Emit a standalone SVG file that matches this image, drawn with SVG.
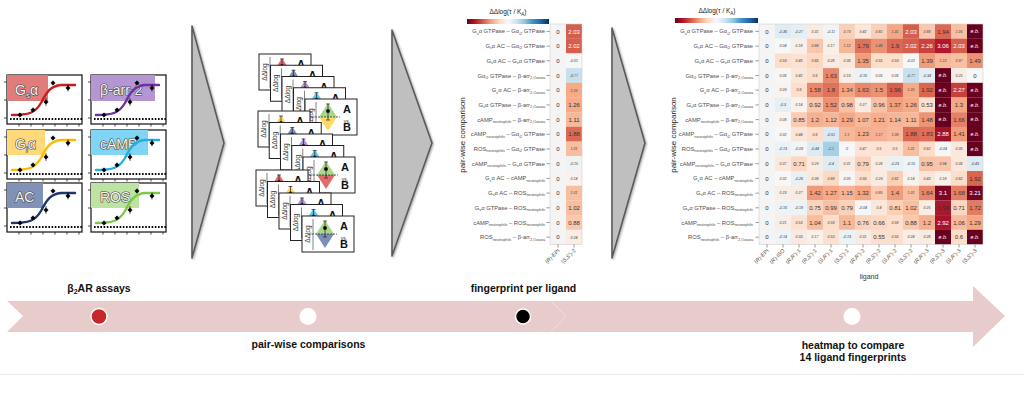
<svg xmlns="http://www.w3.org/2000/svg" xmlns:xlink="http://www.w3.org/1999/xlink" width="1024" height="395" viewBox="0 0 1024 395">
<style>
text{font-family:"Liberation Sans",Arial,sans-serif}
.L{font-size:6px;fill:#333;text-anchor:middle}
.W{font-size:6px;fill:#fff;text-anchor:middle}
.S{font-size:3.6px;font-style:italic;fill:#444;text-anchor:middle}
.E{font-size:5.4px;font-style:italic;fill:#fff;text-anchor:middle}
.rl text{font-size:5.8px;fill:#4d4d4d;text-anchor:end}
.sb{font-size:3.8px}
.xl text{font-size:5.4px;fill:#4d4d4d;text-anchor:end}
.i{font-style:italic}
.ttl{font-size:6.5px;fill:#222;text-anchor:middle}
.yl{font-size:8px;fill:#222;text-anchor:middle}
.tick{stroke:#555;stroke-width:0.6}
.frame{fill:none;stroke:#d0d0d0;stroke-width:0.6}
.ga{fill:#bfbfbf;stroke:#5a5a5a;stroke-width:1.6;stroke-linejoin:round;filter:url(#sh)}
.pf{fill:#fff;stroke:#222;stroke-width:1.3}
.plab{font-size:14px;fill:#f4f4f4;stroke:#444;stroke-width:1.2;paint-order:stroke;stroke-linejoin:round}
.sig{fill:none;stroke-width:2.4;stroke-linecap:round}
.dot{stroke:#000;stroke-width:1.8;stroke-dasharray:1.6 1.6}
.bold{font-weight:bold;font-size:10.5px;fill:#111;text-anchor:middle}
.dl{font-size:6.5px;fill:#333;text-anchor:middle}
.A{font-size:11px;font-weight:bold;fill:#111;text-anchor:middle}
</style>
<defs>
<filter id="sh" x="-20%" y="-5%" width="150%" height="115%"><feDropShadow dx="1" dy="1" stdDeviation="1" flood-opacity="0.35"/></filter>
<linearGradient id="rdbu" x1="0" x2="1" y1="0" y2="0">
<stop offset="0" stop-color="#67001f"/><stop offset="0.1" stop-color="#b2182b"/><stop offset="0.2" stop-color="#d6604d"/><stop offset="0.3" stop-color="#f4a582"/><stop offset="0.4" stop-color="#fddbc7"/><stop offset="0.5" stop-color="#f7f7f7"/><stop offset="0.6" stop-color="#d1e5f0"/><stop offset="0.7" stop-color="#92c5de"/><stop offset="0.8" stop-color="#4393c3"/><stop offset="0.9" stop-color="#2166ac"/><stop offset="1" stop-color="#053061"/>
</linearGradient>
<path id="sig" d="M5,40 C22,40 28,38 34,28 C40,16 44,11 54,10 L68,10"/>
<g id="axes">
<rect class="pf" width="75" height="49"/>
</g>
<g id="deco">
<line class="dot" x1="3" y1="44" x2="75" y2="44"/>
<g stroke="#222" stroke-width="0.8"><line x1="-3" y1="7" x2="0" y2="7"/><line x1="-3" y1="25" x2="0" y2="25"/><line x1="-3" y1="43" x2="0" y2="43"/><line x1="12" y1="49" x2="12" y2="51.5"/><line x1="24" y1="49" x2="24" y2="51.5"/><line x1="36" y1="49" x2="36" y2="51.5"/><line x1="48" y1="49" x2="48" y2="51.5"/><line x1="60" y1="49" x2="60" y2="51.5"/><line x1="72" y1="49" x2="72" y2="51.5"/></g>
</g>
<g id="pts" fill="#000" stroke="#000" stroke-width="0.6">
<path d="M13,37.8 L15.2,40 L13,42.2 L10.8,40Z"/><path d="M26,32.8 L28.2,35 L26,37.2 L23.8,35Z"/><path d="M39,24.8 L41.2,27 L39,29.2 L36.8,27Z"/><path d="M46,5.8 L48.2,8 L46,10.2 L43.8,8Z"/><path d="M61,10.8 L63.2,13 L61,15.2 L58.8,13Z"/>
<line x1="39" y1="23" x2="39" y2="31"/><line x1="61" y1="9.5" x2="61" y2="16.5"/>
</g>
<g id="card">
<rect width="52" height="36" fill="#fff" stroke="#222" stroke-width="1"/>
<text class="dl" transform="translate(7.8,18) rotate(-90)">ΔΔlog</text>
<line x1="11" y1="3" x2="11" y2="34" stroke="#666" stroke-width="0.8"/>
<text class="A" x="42" y="14">A</text>
</g>
<g id="errb" stroke="#222" stroke-width="0.7">
<line x1="23" y1="5" x2="23" y2="21"/><line x1="21" y1="5" x2="25" y2="5"/><line x1="21" y1="21" x2="25" y2="21"/><circle cx="23" cy="12" r="1.7" fill="#000"/>
</g>
<g id="front">
<line x1="10" y1="18" x2="35" y2="18" stroke="#222" stroke-width="0.7" stroke-dasharray="2 1"/>
<text x="8.5" y="19.3" font-size="3.5" fill="#333" text-anchor="middle">0</text>
<text x="42" y="23.5" font-size="5" fill="#333" text-anchor="middle">vs.</text>
<text class="A" x="42" y="32" font-size="10">B</text>
</g>
<g id="rl" class="rl">
<text y="33.4">G<tspan class="sb" dy="1.3">s</tspan><tspan dy="-1.3">α GTPase – Gα</tspan><tspan class="sb" dy="1.3">i2</tspan><tspan dy="-1.3"> GTPase</tspan></text>
<text y="48.1">G<tspan class="sb" dy="1.3">s</tspan><tspan dy="-1.3">α AC – Gα</tspan><tspan class="sb" dy="1.3">i2</tspan><tspan dy="-1.3"> GTPase</tspan></text>
<text y="62.8">G<tspan class="sb" dy="1.3">s</tspan><tspan dy="-1.3">α AC – G</tspan><tspan class="sb" dy="1.3">s</tspan><tspan dy="-1.3">α GTPase</tspan></text>
<text y="77.5">Gα<tspan class="sb" dy="1.3">i2</tspan><tspan dy="-1.3"> GTPase – β-arr</tspan><tspan class="sb" dy="1.3">2,Ozawa</tspan></text>
<text y="92.2">G<tspan class="sb" dy="1.3">s</tspan><tspan dy="-1.3">α AC – β-arr</tspan><tspan class="sb" dy="1.3">2,Ozawa</tspan></text>
<text y="106.9">G<tspan class="sb" dy="1.3">s</tspan><tspan dy="-1.3">α GTPase – β-arr</tspan><tspan class="sb" dy="1.3">2,Ozawa</tspan></text>
<text y="121.6">cAMP<tspan class="sb" dy="1.3">neutrophils</tspan><tspan dy="-1.3"> – β-arr</tspan><tspan class="sb" dy="1.3">2,Ozawa</tspan></text>
<text y="136.3">cAMP<tspan class="sb" dy="1.3">neutrophils</tspan><tspan dy="-1.3"> – Gα</tspan><tspan class="sb" dy="1.3">i2</tspan><tspan dy="-1.3"> GTPase</tspan></text>
<text y="151">ROS<tspan class="sb" dy="1.3">neutrophils</tspan><tspan dy="-1.3"> – Gα</tspan><tspan class="sb" dy="1.3">i2</tspan><tspan dy="-1.3"> GTPase</tspan></text>
<text y="165.7">cAMP<tspan class="sb" dy="1.3">neutrophils</tspan><tspan dy="-1.3"> – G</tspan><tspan class="sb" dy="1.3">s</tspan><tspan dy="-1.3">α GTPase</tspan></text>
<text y="180.4">G<tspan class="sb" dy="1.3">s</tspan><tspan dy="-1.3">α AC – cAMP</tspan><tspan class="sb" dy="1.3">neutrophils</tspan></text>
<text y="195.1">G<tspan class="sb" dy="1.3">s</tspan><tspan dy="-1.3">α AC – ROS</tspan><tspan class="sb" dy="1.3">neutrophils</tspan></text>
<text y="209.8">G<tspan class="sb" dy="1.3">s</tspan><tspan dy="-1.3">α GTPase – ROS</tspan><tspan class="sb" dy="1.3">neutrophils</tspan></text>
<text y="224.5">cAMP<tspan class="sb" dy="1.3">neutrophils</tspan><tspan dy="-1.3"> – ROS</tspan><tspan class="sb" dy="1.3">neutrophils</tspan></text>
<text y="239.2">ROS<tspan class="sb" dy="1.3">neutrophils</tspan><tspan dy="-1.3"> – β-arr</tspan><tspan class="sb" dy="1.3">2,Ozawa</tspan></text>
</g>
<g id="rticks" class="tick">
<line x1="0" y1="31.4" x2="3.5" y2="31.4"/><line x1="0" y1="46.1" x2="3.5" y2="46.1"/><line x1="0" y1="60.8" x2="3.5" y2="60.8"/><line x1="0" y1="75.5" x2="3.5" y2="75.5"/><line x1="0" y1="90.2" x2="3.5" y2="90.2"/><line x1="0" y1="104.9" x2="3.5" y2="104.9"/><line x1="0" y1="119.6" x2="3.5" y2="119.6"/><line x1="0" y1="134.3" x2="3.5" y2="134.3"/><line x1="0" y1="149" x2="3.5" y2="149"/><line x1="0" y1="163.7" x2="3.5" y2="163.7"/><line x1="0" y1="178.4" x2="3.5" y2="178.4"/><line x1="0" y1="193.1" x2="3.5" y2="193.1"/><line x1="0" y1="207.8" x2="3.5" y2="207.8"/><line x1="0" y1="222.5" x2="3.5" y2="222.5"/><line x1="0" y1="237.2" x2="3.5" y2="237.2"/>
</g>
<g id="zeros" class="L">
<text y="33.5">0</text><text y="48.2">0</text><text y="62.9">0</text><text y="77.6">0</text><text y="92.3">0</text><text y="107">0</text><text y="121.7">0</text><text y="136.4">0</text><text y="151.1">0</text><text y="165.8">0</text><text y="180.5">0</text><text y="195.2">0</text><text y="209.9">0</text><text y="224.6">0</text><text y="239.3">0</text>
</g>
</defs>
<rect width="1024" height="395" fill="#fff"/>

<g id="connectors">
<polygon class="ga" points="192,26 224,143 192,258"/>
<polygon class="ga" points="392,30 432,143 392,256"/>
<polygon class="ga" points="612,28 645,143 612,258"/>
</g>

<g id="assays">
<g id="plot-gs" transform="translate(7,75)">
<use href="#axes"/><rect width="41" height="26" fill="#e07c7c"/>
<text class="plab" x="8" y="20">G<tspan font-size="8" dy="3">s</tspan><tspan dy="-3">α</tspan></text>
<use href="#deco"/><use href="#sig" class="sig" stroke="#cc1a1a"/><use href="#pts"/>
</g>
<g id="plot-barr" transform="translate(91,75)">
<use href="#axes"/><rect width="64" height="26" fill="#b497d2"/>
<text class="plab" x="9" y="20">β-arr-2</text>
<use href="#deco"/><use href="#sig" class="sig" stroke="#7030a0"/><use href="#pts"/>
</g>
<g id="plot-gi" transform="translate(7,130)">
<use href="#axes"/><rect width="38" height="25" fill="#ffd97a"/>
<text class="plab" x="8" y="19">G<tspan font-size="8" dy="3">i</tspan><tspan dy="-3">α</tspan></text>
<use href="#deco"/><use href="#sig" class="sig" stroke="#ffba00"/><use href="#pts"/>
</g>
<g id="plot-camp" transform="translate(91,130)">
<use href="#axes"/><rect width="57" height="25" fill="#80d4f4"/>
<text class="plab" x="9" y="19">cAMP</text>
<use href="#deco"/><use href="#sig" class="sig" stroke="#1fb1e6"/><use href="#pts"/>
</g>
<g id="plot-ac" transform="translate(7,183)">
<use href="#axes"/><rect width="36" height="25" fill="#8092b8"/>
<text class="plab" x="8" y="19">AC</text>
<use href="#deco"/><use href="#sig" class="sig" stroke="#1f3570"/><use href="#pts"/>
</g>
<g id="plot-ros" transform="translate(91,183)">
<use href="#axes"/><rect width="48" height="25" fill="#bde2a2"/>
<text class="plab" x="9" y="19">ROS</text>
<use href="#deco"/><use href="#sig" class="sig" stroke="#7dc846"/><use href="#pts"/>
</g>
</g>

<g id="pairwise">
<g transform="translate(259,54)"><use href="#card"/><polygon points="14,18 23,4 32,18" fill="#e36a6a"/><use href="#errb"/></g>
<g transform="translate(270.5,65.25)"><use href="#card"/><polygon points="14,18 23,4 32,18" fill="#7d8fb5"/><use href="#errb"/></g>
<g transform="translate(282,76.5)"><use href="#card"/><polygon points="14,18 23,4 32,18" fill="#b38fd3"/><use href="#errb"/></g>
<g transform="translate(293.5,87.75)"><use href="#card"/><polygon points="14,18 23,4 32,18" fill="#5cc6ef"/><use href="#errb"/></g>
<g transform="translate(305,99)"><use href="#card"/><polygon points="14,18 23,4 32,18" fill="#a9d88b"/><polygon points="14,18 23,32 32,18" fill="#ffd966"/><use href="#front"/><use href="#errb"/></g>

<g transform="translate(258,111)"><use href="#card"/><polygon points="14,18 23,4 32,18" fill="#ffd966"/><use href="#errb"/></g>
<g transform="translate(269.25,122.5)"><use href="#card"/><polygon points="14,18 23,4 32,18" fill="#7d8fb5"/><use href="#errb"/></g>
<g transform="translate(280.5,134)"><use href="#card"/><polygon points="14,18 23,4 32,18" fill="#b38fd3"/><use href="#errb"/></g>
<g transform="translate(291.75,145.5)"><use href="#card"/><polygon points="14,18 23,4 32,18" fill="#5cc6ef"/><use href="#errb"/></g>
<g transform="translate(303,157)"><use href="#card"/><polygon points="14,18 23,4 32,18" fill="#a9d88b"/><polygon points="14,18 23,32 32,18" fill="#e36a6a"/><use href="#front"/><use href="#errb"/></g>

<g transform="translate(256,170)"><use href="#card"/><polygon points="14,18 23,4 32,18" fill="#e36a6a"/><use href="#errb"/></g>
<g transform="translate(267.5,181.5)"><use href="#card"/><polygon points="14,18 23,4 32,18" fill="#ffd966"/><use href="#errb"/></g>
<g transform="translate(279,193)"><use href="#card"/><polygon points="14,18 23,4 32,18" fill="#b38fd3"/><use href="#errb"/></g>
<g transform="translate(290.5,204.5)"><use href="#card"/><polygon points="14,18 23,4 32,18" fill="#5cc6ef"/><use href="#errb"/></g>
<g transform="translate(302,216)"><use href="#card"/><polygon points="14,18 23,4 32,18" fill="#a9d88b"/><polygon points="14,18 23,32 32,18" fill="#7d8fb5"/><use href="#front"/><use href="#errb"/></g>
</g>

<g id="fingerprint">
<text class="ttl" x="508" y="14">ΔΔlog(τ / K<tspan font-size="4.5" dy="1.5">A</tspan><tspan dy="-1.5">)</tspan></text>
<rect x="467" y="19" width="82" height="5" fill="url(#rdbu)"/>
<text class="yl" transform="translate(465,135) rotate(-90)">pair-wise comparison</text>
<use href="#rl" x="545"/>
<use href="#rticks" x="546.5"/>
<rect x="550" y="24" width="16" height="220.5" fill="#f4f4f4"/>
<use href="#zeros" x="558"/>
<g>
<rect x="566" y="24" width="16" height="14.8" fill="#d55e4c"/>
<rect x="566" y="38.7" width="16" height="14.8" fill="#d55e4c"/>
<rect x="566" y="53.4" width="16" height="14.8" fill="#f7f7f7"/>
<rect x="566" y="68.1" width="16" height="14.8" fill="#c8e0ed"/>
<rect x="566" y="82.8" width="16" height="14.8" fill="#f5aa88"/>
<rect x="566" y="97.5" width="16" height="14.8" fill="#f5aa88"/>
<rect x="566" y="112.2" width="16" height="14.8" fill="#f7b799"/>
<rect x="566" y="126.9" width="16" height="14.8" fill="#db6a55"/>
<rect x="566" y="141.6" width="16" height="14.8" fill="#f8bea2"/>
<rect x="566" y="156.3" width="16" height="14.8" fill="#eef3f5"/>
<rect x="566" y="171" width="16" height="14.8" fill="#f8f1ec"/>
<rect x="566" y="185.7" width="16" height="14.8" fill="#f8bea2"/>
<rect x="566" y="200.4" width="16" height="14.8" fill="#f8bea1"/>
<rect x="566" y="215.1" width="16" height="14.8" fill="#fac8af"/>
<rect x="566" y="229.8" width="16" height="14.7" fill="#f9ede5"/>
</g>
<text class="W" x="574" y="33.5">2.03</text>
<text class="W" x="574" y="48.2">2.02</text>
<text class="S" x="574" y="62.1">-0.01</text>
<text class="S" x="574" y="76.8">-0.77</text>
<text class="S" x="574" y="91.5">1.25</text>
<text class="L" x="574" y="107">1.26</text>
<text class="L" x="574" y="121.7">1.11</text>
<text class="L" x="574" y="136.4">1.88</text>
<text class="S" x="574" y="150.3">1.01</text>
<text class="S" x="574" y="165">-0.15</text>
<text class="S" x="574" y="179.7">0.14</text>
<text class="S" x="574" y="194.4">1.01</text>
<text class="L" x="574" y="209.9">1.02</text>
<text class="L" x="574" y="224.6">0.88</text>
<text class="S" x="574" y="238.5">0.24</text>
<rect class="frame" x="550" y="24" width="32" height="220.5"/>
<g class="tick"><line x1="558" y1="244.5" x2="558" y2="247.5"/><line x1="574" y1="244.5" x2="574" y2="247.5"/></g>
<g class="xl">
<text transform="translate(560,251) rotate(-45)">(<tspan class="i">R</tspan>)-EPI</text>
<text transform="translate(576,251) rotate(-45)">(<tspan class="i">S</tspan>,<tspan class="i">S'</tspan>)-2</text>
</g>
</g>

<g id="heatmap">
<text class="ttl" x="717" y="13">ΔΔlog(τ / K<tspan font-size="4.5" dy="1.5">A</tspan><tspan dy="-1.5">)</tspan></text>
<rect x="675" y="18" width="83" height="5" fill="url(#rdbu)"/>
<text class="yl" transform="translate(676,135) rotate(-90)">pair-wise comparison</text>
<use href="#rl" x="753"/>
<use href="#rticks" x="755.5"/>
<rect x="759" y="24" width="16" height="220.5" fill="#f4f4f4"/>
<use href="#zeros" x="767"/>

<g transform="translate(0,24)">
<rect x="775" width="16" height="14.8" fill="#e0ecf3"/><rect x="791" width="16" height="14.8" fill="#e6eff4"/><rect x="807" width="16" height="14.8" fill="#faeae1"/><rect x="823" width="16" height="14.8" fill="#f1f4f6"/><rect x="839" width="16" height="14.8" fill="#fbd0b8"/><rect x="855" width="16" height="14.8" fill="#fbe6da"/><rect x="871" width="16" height="14.8" fill="#fbd0b8"/><rect x="887" width="16" height="14.8" fill="#f4a784"/><rect x="903" width="16" height="14.8" fill="#d55e4c"/><rect x="919" width="16" height="14.8" fill="#fac7ae"/><rect x="935" width="16" height="14.8" fill="#da6853"/><rect x="951" width="16" height="14.8" fill="#f8bfa3"/><rect x="967" width="16" height="14.8" fill="#67001f"/>
<text class="S" x="783" y="8.7">-0.36</text><text class="S" x="799" y="8.7">-0.27</text><text class="S" x="815" y="8.7">0.31</text><text class="S" x="831" y="8.7">-0.11</text><text class="S" x="847" y="8.7">0.79</text><text class="S" x="863" y="8.7">0.42</text><text class="S" x="879" y="8.7">0.81</text><text class="S" x="895" y="8.7">1.31</text><text class="W" x="911" y="9.5">2.03</text><text class="S" x="927" y="8.7">0.88</text><text class="L" x="943" y="9.5">1.94</text><text class="S" x="959" y="8.7">1.05</text><text class="E" x="975" y="9.3">e.b.</text>
</g>
<g transform="translate(0,38.7)">
<rect x="775" width="16" height="14.8" fill="#f7f7f7"/><rect x="791" width="16" height="14.8" fill="#f9efe8"/><rect x="807" width="16" height="14.8" fill="#fac7ae"/><rect x="823" width="16" height="14.8" fill="#f9efe8"/><rect x="839" width="16" height="14.8" fill="#f7b799"/><rect x="855" width="16" height="14.8" fill="#de735b"/><rect x="871" width="16" height="14.8" fill="#ec9274"/><rect x="887" width="16" height="14.8" fill="#da6853"/><rect x="903" width="16" height="14.8" fill="#d55e4c"/><rect x="919" width="16" height="14.8" fill="#c8423f"/><rect x="935" width="16" height="14.8" fill="#b2182b"/><rect x="951" width="16" height="14.8" fill="#d55e4c"/><rect x="967" width="16" height="14.8" fill="#67001f"/>
<text class="S" x="783" y="8.7">0.04</text><text class="S" x="799" y="8.7">0.18</text><text class="S" x="815" y="8.7">0.88</text><text class="S" x="831" y="8.7">0.17</text><text class="S" x="847" y="8.7">1.12</text><text class="L" x="863" y="9.5">1.79</text><text class="S" x="879" y="8.7">1.46</text><text class="L" x="895" y="9.5">1.9</text><text class="W" x="911" y="9.5">2.02</text><text class="W" x="927" y="9.5">2.26</text><text class="W" x="943" y="9.5">3.06</text><text class="W" x="959" y="9.5">2.03</text><text class="E" x="975" y="9.3">e.b.</text>
</g>
<g transform="translate(0,53.4)">
<rect x="775" width="16" height="14.8" fill="#fcdecb"/><rect x="791" width="16" height="14.8" fill="#fce2d3"/><rect x="807" width="16" height="14.8" fill="#fcd8c3"/><rect x="823" width="16" height="14.8" fill="#faeae1"/><rect x="839" width="16" height="14.8" fill="#fbe6da"/><rect x="855" width="16" height="14.8" fill="#f09d7c"/><rect x="871" width="16" height="14.8" fill="#fcdecb"/><rect x="887" width="16" height="14.8" fill="#fcdecb"/><rect x="903" width="16" height="14.8" fill="#f7f7f7"/><rect x="919" width="16" height="14.8" fill="#f09d7c"/><rect x="935" width="16" height="14.8" fill="#f7b799"/><rect x="951" width="16" height="14.8" fill="#f8bfa3"/><rect x="967" width="16" height="14.8" fill="#ec9274"/>
<text class="S" x="783" y="8.7">0.59</text><text class="S" x="799" y="8.7">0.45</text><text class="S" x="815" y="8.7">0.66</text><text class="S" x="831" y="8.7">0.28</text><text class="S" x="847" y="8.7">0.36</text><text class="L" x="863" y="9.5">1.35</text><text class="S" x="879" y="8.7">0.55</text><text class="S" x="895" y="8.7">0.59</text><text class="S" x="911" y="8.7">-0.01</text><text class="L" x="927" y="9.5">1.39</text><text class="S" x="943" y="8.7">1.12</text><text class="S" x="959" y="8.7">0.97</text><text class="L" x="975" y="9.5">1.49</text>
</g>
<g transform="translate(0,68.1)">
<rect x="775" width="16" height="14.8" fill="#f8f5f3"/><rect x="791" width="16" height="14.8" fill="#fbe6da"/><rect x="807" width="16" height="14.8" fill="#fcdecb"/><rect x="823" width="16" height="14.8" fill="#e7886c"/><rect x="839" width="16" height="14.8" fill="#f9efe8"/><rect x="855" width="16" height="14.8" fill="#ebf2f5"/><rect x="871" width="16" height="14.8" fill="#f8f5f3"/><rect x="887" width="16" height="14.8" fill="#f8f5f3"/><rect x="903" width="16" height="14.8" fill="#c8e0ed"/><rect x="919" width="16" height="14.8" fill="#e4eef4"/><rect x="935" width="16" height="14.8" fill="#67001f"/><rect x="951" width="16" height="14.8" fill="#f9eee6"/><rect x="967" width="16" height="14.8" fill="#f7f7f7"/>
<text class="S" x="783" y="8.7">0.06</text><text class="S" x="799" y="8.7">0.42</text><text class="S" x="815" y="8.7">0.6</text><text class="L" x="831" y="9.5">1.63</text><text class="S" x="847" y="8.7">0.19</text><text class="S" x="863" y="8.7">-0.16</text><text class="S" x="879" y="8.7">0.05</text><text class="S" x="895" y="8.7">0.06</text><text class="S" x="911" y="8.7">-0.77</text><text class="S" x="927" y="8.7">-0.34</text><text class="E" x="943" y="9.3">e.b.</text><text class="S" x="959" y="8.7">0.25</text><text class="L" x="975" y="9.5">0</text>
</g>
<g transform="translate(0,82.8)">
<rect x="775" width="16" height="14.8" fill="#f8f3f0"/><rect x="791" width="16" height="14.8" fill="#fcdecb"/><rect x="807" width="16" height="14.8" fill="#e8896d"/><rect x="823" width="16" height="14.8" fill="#de735b"/><rect x="839" width="16" height="14.8" fill="#f3a582"/><rect x="855" width="16" height="14.8" fill="#e7886c"/><rect x="871" width="16" height="14.8" fill="#ec9274"/><rect x="887" width="16" height="14.8" fill="#d65f4d"/><rect x="903" width="16" height="14.8" fill="#f5aa88"/><rect x="919" width="16" height="14.8" fill="#d9664f"/><rect x="935" width="16" height="14.8" fill="#67001f"/><rect x="951" width="16" height="14.8" fill="#c6403e"/><rect x="967" width="16" height="14.8" fill="#67001f"/>
<text class="S" x="783" y="8.7">0.09</text><text class="S" x="799" y="8.7">0.6</text><text class="L" x="815" y="9.5">1.58</text><text class="L" x="831" y="9.5">1.8</text><text class="L" x="847" y="9.5">1.34</text><text class="L" x="863" y="9.5">1.63</text><text class="L" x="879" y="9.5">1.5</text><text class="L" x="895" y="9.5">1.96</text><text class="S" x="911" y="8.7">1.25</text><text class="L" x="927" y="9.5">1.92</text><text class="E" x="943" y="9.3">e.b.</text><text class="W" x="959" y="9.5">2.27</text><text class="E" x="975" y="9.3">e.b.</text>
</g>
<g transform="translate(0,97.5)">
<rect x="775" width="16" height="14.8" fill="#e6eff4"/><rect x="791" width="16" height="14.8" fill="#f8f1ec"/><rect x="807" width="16" height="14.8" fill="#fac6ad"/><rect x="823" width="16" height="14.8" fill="#eb9072"/><rect x="839" width="16" height="14.8" fill="#f8c0a5"/><rect x="855" width="16" height="14.8" fill="#faebe2"/><rect x="871" width="16" height="14.8" fill="#f9c2a7"/><rect x="887" width="16" height="14.8" fill="#f1a07e"/><rect x="903" width="16" height="14.8" fill="#f5aa88"/><rect x="919" width="16" height="14.8" fill="#fce1d1"/><rect x="935" width="16" height="14.8" fill="#67001f"/><rect x="951" width="16" height="14.8" fill="#f4a784"/><rect x="967" width="16" height="14.8" fill="#67001f"/>
<text class="S" x="783" y="8.7">-0.3</text><text class="S" x="799" y="8.7">0.14</text><text class="L" x="815" y="9.5">0.92</text><text class="L" x="831" y="9.5">1.52</text><text class="L" x="847" y="9.5">0.98</text><text class="S" x="863" y="8.7">0.27</text><text class="L" x="879" y="9.5">0.96</text><text class="L" x="895" y="9.5">1.37</text><text class="L" x="911" y="9.5">1.26</text><text class="L" x="927" y="9.5">0.53</text><text class="E" x="943" y="9.3">e.b.</text><text class="L" x="959" y="9.5">1.3</text><text class="E" x="975" y="9.3">e.b.</text>
</g>
<g transform="translate(0,112.2)">
<rect x="775" width="16" height="14.8" fill="#f8f4f1"/><rect x="791" width="16" height="14.8" fill="#fbcbb3"/><rect x="807" width="16" height="14.8" fill="#f6af8f"/><rect x="823" width="16" height="14.8" fill="#f7b698"/><rect x="839" width="16" height="14.8" fill="#f4a886"/><rect x="855" width="16" height="14.8" fill="#f7b99c"/><rect x="871" width="16" height="14.8" fill="#f6ae8e"/><rect x="887" width="16" height="14.8" fill="#f7b496"/><rect x="903" width="16" height="14.8" fill="#f7b799"/><rect x="919" width="16" height="14.8" fill="#ed9476"/><rect x="935" width="16" height="14.8" fill="#67001f"/><rect x="951" width="16" height="14.8" fill="#e58167"/><rect x="967" width="16" height="14.8" fill="#67001f"/>
<text class="S" x="783" y="8.7">0.08</text><text class="L" x="799" y="9.5">0.85</text><text class="L" x="815" y="9.5">1.2</text><text class="L" x="831" y="9.5">1.12</text><text class="L" x="847" y="9.5">1.29</text><text class="L" x="863" y="9.5">1.07</text><text class="L" x="879" y="9.5">1.21</text><text class="L" x="895" y="9.5">1.14</text><text class="L" x="911" y="9.5">1.11</text><text class="L" x="927" y="9.5">1.48</text><text class="E" x="943" y="9.3">e.b.</text><text class="L" x="959" y="9.5">1.66</text><text class="E" x="975" y="9.3">e.b.</text>
</g>
<g transform="translate(0,126.9)">
<rect x="775" width="16" height="14.8" fill="#f7f7f7"/><rect x="791" width="16" height="14.8" fill="#fbe5d8"/><rect x="807" width="16" height="14.8" fill="#fcdecb"/><rect x="823" width="16" height="14.8" fill="#dae9f2"/><rect x="839" width="16" height="14.8" fill="#f7b799"/><rect x="855" width="16" height="14.8" fill="#f5ad8d"/><rect x="871" width="16" height="14.8" fill="#f6b194"/><rect x="887" width="16" height="14.8" fill="#f7b89b"/><rect x="903" width="16" height="14.8" fill="#db6a55"/><rect x="919" width="16" height="14.8" fill="#dd705a"/><rect x="935" width="16" height="14.8" fill="#a01228"/><rect x="951" width="16" height="14.8" fill="#f09c7b"/><rect x="967" width="16" height="14.8" fill="#67001f"/>
<text class="S" x="783" y="8.7">0.02</text><text class="S" x="799" y="8.7">0.44</text><text class="S" x="815" y="8.7">0.6</text><text class="S" x="831" y="8.7">-0.51</text><text class="S" x="847" y="8.7">1.1</text><text class="L" x="863" y="9.5">1.23</text><text class="S" x="879" y="8.7">1.17</text><text class="S" x="895" y="8.7">1.08</text><text class="L" x="911" y="9.5">1.88</text><text class="L" x="927" y="9.5">1.83</text><text class="W" x="943" y="9.5">2.88</text><text class="L" x="959" y="9.5">1.41</text><text class="E" x="975" y="9.3">e.b.</text>
</g>
<g transform="translate(0,141.6)">
<rect x="775" width="16" height="14.8" fill="#ebf2f5"/><rect x="791" width="16" height="14.8" fill="#f2f5f6"/><rect x="807" width="16" height="14.8" fill="#dfebf3"/><rect x="823" width="16" height="14.8" fill="#a7d0e4"/><rect x="839" width="16" height="14.8" fill="#f7f7f7"/><rect x="855" width="16" height="14.8" fill="#fce3d5"/><rect x="871" width="16" height="14.8" fill="#fce2d3"/><rect x="887" width="16" height="14.8" fill="#fce2d3"/><rect x="903" width="16" height="14.8" fill="#f8bea2"/><rect x="919" width="16" height="14.8" fill="#fcddc9"/><rect x="935" width="16" height="14.8" fill="#f5f6f7"/><rect x="951" width="16" height="14.8" fill="#fbe8dd"/><rect x="967" width="16" height="14.8" fill="#67001f"/>
<text class="S" x="783" y="8.7">-0.19</text><text class="S" x="799" y="8.7">-0.09</text><text class="S" x="815" y="8.7">-0.44</text><text class="S" x="831" y="8.7">-1.1</text><text class="S" x="847" y="8.7">0</text><text class="S" x="863" y="8.7">0.47</text><text class="S" x="879" y="8.7">0.5</text><text class="S" x="895" y="8.7">0.5</text><text class="S" x="911" y="8.7">1.01</text><text class="S" x="927" y="8.7">0.62</text><text class="S" x="943" y="8.7">-0.04</text><text class="S" x="959" y="8.7">0.35</text><text class="E" x="975" y="9.3">e.b.</text>
</g>
<g transform="translate(0,156.3)">
<rect x="775" width="16" height="14.8" fill="#fbe7dc"/><rect x="791" width="16" height="14.8" fill="#fcd7c2"/><rect x="807" width="16" height="14.8" fill="#faebe2"/><rect x="823" width="16" height="14.8" fill="#e0ecf3"/><rect x="839" width="16" height="14.8" fill="#faeae1"/><rect x="855" width="16" height="14.8" fill="#fbd1b9"/><rect x="871" width="16" height="14.8" fill="#faece4"/><rect x="887" width="16" height="14.8" fill="#eaf1f5"/><rect x="903" width="16" height="14.8" fill="#eef3f5"/><rect x="919" width="16" height="14.8" fill="#f9c3a8"/><rect x="935" width="16" height="14.8" fill="#f9c4a9"/><rect x="951" width="16" height="14.8" fill="#fbe7dc"/><rect x="967" width="16" height="14.8" fill="#dfebf3"/>
<text class="S" x="783" y="8.7">0.37</text><text class="L" x="799" y="9.5">0.71</text><text class="S" x="815" y="8.7">0.29</text><text class="S" x="831" y="8.7">-0.4</text><text class="S" x="847" y="8.7">0.31</text><text class="L" x="863" y="9.5">0.79</text><text class="S" x="879" y="8.7">0.26</text><text class="S" x="895" y="8.7">-0.23</text><text class="S" x="911" y="8.7">-0.15</text><text class="L" x="927" y="9.5">0.95</text><text class="S" x="943" y="8.7">0.94</text><text class="S" x="959" y="8.7">0.36</text><text class="S" x="975" y="8.7">-0.43</text>
</g>
<g transform="translate(0,171)">
<rect x="775" width="16" height="14.8" fill="#f7f7f7"/><rect x="791" width="16" height="14.8" fill="#e8f0f4"/><rect x="807" width="16" height="14.8" fill="#fbe7db"/><rect x="823" width="16" height="14.8" fill="#fcd9c5"/><rect x="839" width="16" height="14.8" fill="#f7f5f4"/><rect x="855" width="16" height="14.8" fill="#fcdfce"/><rect x="871" width="16" height="14.8" fill="#faebe2"/><rect x="887" width="16" height="14.8" fill="#fbcfb6"/><rect x="903" width="16" height="14.8" fill="#f8f1ec"/><rect x="919" width="16" height="14.8" fill="#fbe5d9"/><rect x="935" width="16" height="14.8" fill="#f9f0ea"/><rect x="951" width="16" height="14.8" fill="#fcddc9"/><rect x="967" width="16" height="14.8" fill="#d9664f"/>
<text class="S" x="783" y="8.7">0.02</text><text class="S" x="799" y="8.7">-0.26</text><text class="S" x="815" y="8.7">0.38</text><text class="S" x="831" y="8.7">0.68</text><text class="S" x="847" y="8.7">0.05</text><text class="S" x="863" y="8.7">0.56</text><text class="S" x="879" y="8.7">0.29</text><text class="S" x="895" y="8.7">0.82</text><text class="S" x="911" y="8.7">0.14</text><text class="S" x="927" y="8.7">0.43</text><text class="S" x="943" y="8.7">0.18</text><text class="S" x="959" y="8.7">0.62</text><text class="L" x="975" y="9.5">1.92</text>
</g>
<g transform="translate(0,185.7)">
<rect x="775" width="16" height="14.8" fill="#f9eee6"/><rect x="791" width="16" height="14.8" fill="#faebe2"/><rect x="807" width="16" height="14.8" fill="#ef9b7a"/><rect x="823" width="16" height="14.8" fill="#f5a987"/><rect x="839" width="16" height="14.8" fill="#f7b395"/><rect x="855" width="16" height="14.8" fill="#f4a582"/><rect x="871" width="16" height="14.8" fill="#fbcbb3"/><rect x="887" width="16" height="14.8" fill="#f09d7c"/><rect x="903" width="16" height="14.8" fill="#f8bea2"/><rect x="919" width="16" height="14.8" fill="#e6866b"/><rect x="935" width="16" height="14.8" fill="#7e0723"/><rect x="951" width="16" height="14.8" fill="#e47f65"/><rect x="967" width="16" height="14.8" fill="#730421"/>
<text class="S" x="783" y="8.7">0.23</text><text class="S" x="799" y="8.7">0.27</text><text class="L" x="815" y="9.5">1.42</text><text class="L" x="831" y="9.5">1.27</text><text class="L" x="847" y="9.5">1.15</text><text class="L" x="863" y="9.5">1.32</text><text class="S" x="879" y="8.7">0.85</text><text class="L" x="895" y="9.5">1.4</text><text class="S" x="911" y="8.7">1.01</text><text class="L" x="927" y="9.5">1.64</text><text class="W" x="943" y="9.5">3.1</text><text class="L" x="959" y="9.5">1.68</text><text class="W" x="975" y="9.5">3.21</text>
</g>
<g transform="translate(0,200.4)">
<rect x="775" width="16" height="14.8" fill="#edf2f5"/><rect x="791" width="16" height="14.8" fill="#ecf2f5"/><rect x="807" width="16" height="14.8" fill="#fbd4bd"/><rect x="823" width="16" height="14.8" fill="#f8bfa4"/><rect x="839" width="16" height="14.8" fill="#fbd1b9"/><rect x="855" width="16" height="14.8" fill="#f5f6f7"/><rect x="871" width="16" height="14.8" fill="#fbe6da"/><rect x="887" width="16" height="14.8" fill="#fbd0b7"/><rect x="903" width="16" height="14.8" fill="#f8bea1"/><rect x="919" width="16" height="14.8" fill="#f9ede5"/><rect x="935" width="16" height="14.8" fill="#a8192e"/><rect x="951" width="16" height="14.8" fill="#fcd7c2"/><rect x="967" width="16" height="14.8" fill="#e27b61"/>
<text class="S" x="783" y="8.7">-0.16</text><text class="S" x="799" y="8.7">-0.18</text><text class="L" x="815" y="9.5">0.75</text><text class="L" x="831" y="9.5">0.99</text><text class="L" x="847" y="9.5">0.79</text><text class="S" x="863" y="8.7">-0.04</text><text class="S" x="879" y="8.7">0.4</text><text class="L" x="895" y="9.5">0.81</text><text class="L" x="911" y="9.5">1.02</text><text class="S" x="927" y="8.7">0.25</text><text class="L" x="943" y="9.5">1.98</text><text class="L" x="959" y="9.5">0.71</text><text class="L" x="975" y="9.5">1.72</text>
</g>
<g transform="translate(0,215.1)">
<rect x="775" width="16" height="14.8" fill="#f9eee7"/><rect x="791" width="16" height="14.8" fill="#fce1d1"/><rect x="807" width="16" height="14.8" fill="#f8bc9f"/><rect x="823" width="16" height="14.8" fill="#fcdecc"/><rect x="839" width="16" height="14.8" fill="#f7b799"/><rect x="855" width="16" height="14.8" fill="#fbd3bc"/><rect x="871" width="16" height="14.8" fill="#fcd8c3"/><rect x="887" width="16" height="14.8" fill="#fcdfcd"/><rect x="903" width="16" height="14.8" fill="#fac8af"/><rect x="919" width="16" height="14.8" fill="#f6af8f"/><rect x="935" width="16" height="14.8" fill="#a5142c"/><rect x="951" width="16" height="14.8" fill="#f7ba9d"/><rect x="967" width="16" height="14.8" fill="#f4a886"/>
<text class="S" x="783" y="8.7">0.21</text><text class="S" x="799" y="8.7">0.53</text><text class="L" x="815" y="9.5">1.04</text><text class="S" x="831" y="8.7">0.59</text><text class="L" x="847" y="9.5">1.1</text><text class="L" x="863" y="9.5">0.76</text><text class="L" x="879" y="9.5">0.66</text><text class="S" x="895" y="8.7">0.58</text><text class="L" x="911" y="9.5">0.88</text><text class="L" x="927" y="9.5">1.2</text><text class="W" x="943" y="9.5">2.92</text><text class="L" x="959" y="9.5">1.06</text><text class="L" x="975" y="9.5">1.29</text>
</g>
<g transform="translate(0,229.8)">
<rect x="775" width="16" height="14.7" fill="#eef3f5"/><rect x="791" width="16" height="14.7" fill="#fae9e0"/><rect x="807" width="16" height="14.7" fill="#f9f0ea"/><rect x="823" width="16" height="14.7" fill="#fce1d1"/><rect x="839" width="16" height="14.7" fill="#ebf2f5"/><rect x="855" width="16" height="14.7" fill="#faeae1"/><rect x="871" width="16" height="14.7" fill="#fce0cf"/><rect x="887" width="16" height="14.7" fill="#fcdfce"/><rect x="903" width="16" height="14.7" fill="#f9ede5"/><rect x="919" width="16" height="14.7" fill="#faebe2"/><rect x="935" width="16" height="14.7" fill="#67001f"/><rect x="951" width="16" height="14.7" fill="#fcdecb"/><rect x="967" width="16" height="14.7" fill="#67001f"/>
<text class="S" x="783" y="8.7">-0.14</text><text class="S" x="799" y="8.7">0.33</text><text class="S" x="815" y="8.7">0.17</text><text class="S" x="831" y="8.7">0.53</text><text class="S" x="847" y="8.7">-0.19</text><text class="S" x="863" y="8.7">0.31</text><text class="L" x="879" y="9.5">0.55</text><text class="S" x="895" y="8.7">0.56</text><text class="S" x="911" y="8.7">0.24</text><text class="S" x="927" y="8.7">0.28</text><text class="E" x="943" y="9.3">e.b.</text><text class="L" x="959" y="9.5">0.6</text><text class="E" x="975" y="9.3">e.b.</text>
</g>
<rect class="frame" x="759" y="24" width="224" height="220.5"/>
<g class="tick">
<line x1="767" y1="244.5" x2="767" y2="247.5"/><line x1="783" y1="244.5" x2="783" y2="247.5"/><line x1="799" y1="244.5" x2="799" y2="247.5"/><line x1="815" y1="244.5" x2="815" y2="247.5"/><line x1="831" y1="244.5" x2="831" y2="247.5"/><line x1="847" y1="244.5" x2="847" y2="247.5"/><line x1="863" y1="244.5" x2="863" y2="247.5"/><line x1="879" y1="244.5" x2="879" y2="247.5"/><line x1="895" y1="244.5" x2="895" y2="247.5"/><line x1="911" y1="244.5" x2="911" y2="247.5"/><line x1="927" y1="244.5" x2="927" y2="247.5"/><line x1="943" y1="244.5" x2="943" y2="247.5"/><line x1="959" y1="244.5" x2="959" y2="247.5"/><line x1="975" y1="244.5" x2="975" y2="247.5"/>
</g>
<g class="xl">
<text transform="translate(769,251) rotate(-45)">(<tspan class="i">R</tspan>)-EPI</text>
<text transform="translate(785,251) rotate(-45)">(<tspan class="i">R</tspan>)-ISO</text>
<text transform="translate(801,251) rotate(-45)">(<tspan class="i">R</tspan>,<tspan class="i">R'</tspan>)-1</text>
<text transform="translate(817,251) rotate(-45)">(<tspan class="i">R</tspan>,<tspan class="i">S'</tspan>)-1</text>
<text transform="translate(833,251) rotate(-45)">(<tspan class="i">S</tspan>,<tspan class="i">R'</tspan>)-1</text>
<text transform="translate(849,251) rotate(-45)">(<tspan class="i">S</tspan>,<tspan class="i">S'</tspan>)-1</text>
<text transform="translate(865,251) rotate(-45)">(<tspan class="i">R</tspan>,<tspan class="i">R'</tspan>)-2</text>
<text transform="translate(881,251) rotate(-45)">(<tspan class="i">R</tspan>,<tspan class="i">S'</tspan>)-2</text>
<text transform="translate(897,251) rotate(-45)">(<tspan class="i">S</tspan>,<tspan class="i">R'</tspan>)-2</text>
<text transform="translate(913,251) rotate(-45)">(<tspan class="i">S</tspan>,<tspan class="i">S'</tspan>)-2</text>
<text transform="translate(929,251) rotate(-45)">(<tspan class="i">R</tspan>,<tspan class="i">R'</tspan>)-3</text>
<text transform="translate(945,251) rotate(-45)">(<tspan class="i">R</tspan>,<tspan class="i">S'</tspan>)-3</text>
<text transform="translate(961,251) rotate(-45)">(<tspan class="i">S</tspan>,<tspan class="i">R'</tspan>)-3</text>
<text transform="translate(977,251) rotate(-45)">(<tspan class="i">S</tspan>,<tspan class="i">S'</tspan>)-3</text>
</g>
<text x="869" y="279" font-size="7" fill="#333" text-anchor="middle">ligand</text>
</g>

<g id="timeline">
<polygon points="7,301 973,301 973,286 1005,316 973,347 973,332 7,332 23,316" fill="#e8cccc"/>
<polyline points="551,301 566,316 551,332" fill="none" stroke="#fff" stroke-opacity="0.35" stroke-width="1"/>
<circle cx="99" cy="316.5" r="8" fill="#c4282b" stroke="#fff" stroke-width="1.5"/>
<circle cx="308" cy="316.5" r="8.5" fill="#fff"/>
<circle cx="523" cy="316.5" r="7.5" fill="#000" stroke="#fff" stroke-width="1.5"/>
<circle cx="852" cy="316.5" r="8.5" fill="#fff"/>
<text class="bold" x="99" y="292">β<tspan font-size="7" dy="2">2</tspan><tspan dy="-2">AR assays</tspan></text>
<text class="bold" x="308.5" y="348">pair-wise comparisons</text>
<text class="bold" x="523.5" y="292">fingerprint per ligand</text>
<text class="bold" x="853" y="349">heatmap to compare</text>
<text class="bold" x="853" y="361">14 ligand fingerprints</text>
</g>
<line x1="0" y1="374.5" x2="1024" y2="374.5" stroke="#ebebeb" stroke-width="1"/>
</svg>
